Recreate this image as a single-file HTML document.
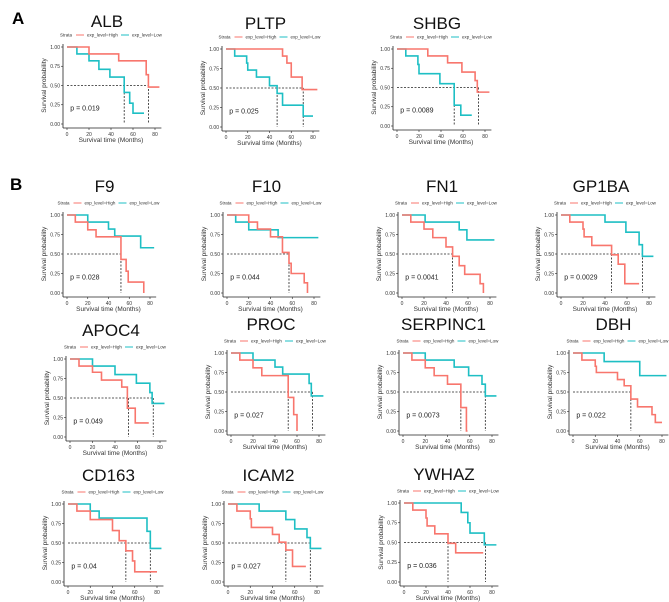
<!DOCTYPE html>
<html><head><meta charset="utf-8">
<style>
body{margin:0;background:#fff;width:669px;height:602px;overflow:hidden;font-family:"Liberation Sans",sans-serif}
svg{display:block}
</style></head>
<body>
<svg id="fig" width="669" height="602" viewBox="0 0 669 602" xmlns="http://www.w3.org/2000/svg">
<text x="12" y="24" font-size="17" font-weight="bold">A</text>
<text x="10" y="190" font-size="17" font-weight="bold">B</text>
</svg>
<script>
// Kaplan-Meier step data: times of steps and survival after each step
const genes=["ALB","PLTP","SHBG","F9","F10","FN1","GP1BA","APOC4","PROC","SERPINC1","DBH","CD163","ICAM2","YWHAZ"];
const pValues=["p = 0.019","p = 0.025","p = 0.0089","p = 0.028","p = 0.044","p = 0.0041","p = 0.0029","p = 0.049","p = 0.027","p = 0.0073","p = 0.022","p = 0.04","p = 0.027","p = 0.036"];
const xTicks=[0,20,40,60,80];
const yTicks=[0,0.25,0.5,0.75,1];
const yTickLabels=["0.00","0.25","0.50","0.75","1.00"];
const highT=[[0,20,47,72,74],[0,52,56,60,70],[0,28,46,59,71,73],[0,8,20,28,52,57,59,74],[0,20,28,40,51,57,59,71,74],[0,8,20,28,40,46,52,57,71,74],[0,8,20,21,28,46,52,58],[0,8,20,28,46,51,58],[0,8,20,28,52,57,60],[0,8,20,28,40,52,57],[0,8,20,21,40,46,52,58,71,74],[0,8,20,40,46,52,58,60],[0,8,20,21,40,46,52,58],[0,8,20,21,28,40,47]];
const highS=[[1,0.91,0.82,0.64,0.48],[1,0.91,0.82,0.64,0.48],[1,0.91,0.82,0.70,0.59,0.44],[1,0.91,0.81,0.72,0.43,0.28,0.14,0],[1,0.91,0.82,0.72,0.52,0.38,0.25,0.13,0],[1,0.91,0.82,0.71,0.59,0.47,0.35,0.24,0.12,0],[1,0.91,0.82,0.72,0.61,0.49,0.37,0.12],[1,0.91,0.83,0.73,0.64,0.37,0.18],[1,0.91,0.81,0.71,0.43,0.21,0],[1,0.91,0.81,0.71,0.60,0.30,0],[1,0.91,0.83,0.75,0.66,0.58,0.41,0.31,0.21,0.11],[1,0.91,0.80,0.66,0.53,0.40,0.27,0.13],[1,0.91,0.81,0.70,0.61,0.51,0.41,0.20],[1,0.91,0.81,0.71,0.61,0.49,0.37]];
const highEnd=[84,84,84,74,74,74,71,70,60,58,80,80,70,72];
const lowT=[[0,9,20,29,39,52,57,60],[0,8,19,20,28,40,47,52,71],[0,8,19,20,39,52,58],[0,20,40,46,71],[0,8,20,47],[0,21,52,59],[0,40,59,71,74],[0,20,40,59,71,73],[0,20,40,47,71,73],[0,20,46,59,71,74],[0,28,60],[0,20,28,71,74],[0,28,52,60,71,74],[0,52,58,60,73]];
const lowS=[[1,0.91,0.82,0.71,0.61,0.41,0.27,0.14],[1,0.91,0.82,0.73,0.64,0.53,0.43,0.28,0.14],[1,0.91,0.80,0.68,0.55,0.27,0.14],[1,0.91,0.82,0.73,0.58],[1,0.91,0.81,0.71],[1,0.91,0.81,0.68],[1,0.91,0.78,0.62,0.47],[1,0.91,0.80,0.69,0.57,0.43],[1,0.91,0.82,0.73,0.61,0.45],[1,0.91,0.82,0.71,0.60,0.45],[1,0.89,0.71],[1,0.91,0.82,0.65,0.43],[1,0.91,0.80,0.68,0.57,0.43],[1,0.88,0.75,0.62,0.47]];
const lowEnd=[70,80,68,84,84,84,84,84,84,84,84,84,84,84];
const medians=[[52,74],[47,71],[52,74],[52],[57],[46],[46,74],[52,74],[52,74],[52,74],[52],[52,74],[52,74],[40,74]];

// layout: x at 0, x at 80, y at 1.00, y at 0.00
const layout=[[67,155,47,124],[226,313,49,127],[397,485,49,126],
[67,150,215,293],[227,314,215,293],[402,490,215,293],[561,649,215,293],
[70,160,359,437],[231,319,353,431],[403,492,353,431],[573,662,353,431],
[68,157,504,582],[228,317,504,582],[404,492,503,582]];

const NS="http://www.w3.org/2000/svg";
const svg=document.getElementById('fig');
function mk(tag,attrs,parent){const e=document.createElementNS(NS,tag);for(const k in attrs)e.setAttribute(k,attrs[k]);(parent||svg).appendChild(e);return e;}
const RED="#F8766D",CYAN="#1EBFC4";

genes.forEach((g,i)=>{
  const [x0,x80,y1,y0]=layout[i];
  const sx=t=>x0+(x80-x0)*t/80;
  const sy=s=>y0+(y1-y0)*s;
  const grp=mk('g',{});
  
  
  const cx=(x0+x80)/2-4;
  const title=mk('text',{x:cx,y:y1-(i<3?20:23),'font-size':17,'text-anchor':'middle',fill:'#111'},grp);
  title.textContent=g;
  
  
  const lg=mk('g',{'font-size':4.5,fill:'#333'},grp);
  
  
  const lx=cx-47, ly=y1-12;
  mk('text',{x:lx,y:ly+1.5},lg).textContent='Strata';
  mk('line',{x1:lx+16,x2:lx+24,y1:ly,y2:ly,stroke:RED,'stroke-width':1},lg);
  mk('text',{x:lx+27,y:ly+1.5},lg).textContent='exp_level=High';
  mk('line',{x1:lx+61,x2:lx+69,y1:ly,y2:ly,stroke:CYAN,'stroke-width':1},lg);
  mk('text',{x:lx+72,y:ly+1.5},lg).textContent='exp_level=Low';
  const ax=x0-4, by=y0+4, xr=sx(84)+2;
  const yax=mk('line',{x1:ax,x2:ax,y1:y1-3,y2:by,stroke:'#222','stroke-width':0.8},grp);
  
  
  const xax=mk('line',{x1:ax,x2:xr,y1:by,y2:by,stroke:'#222','stroke-width':0.8},grp);
  
  
  yTicks.forEach((v,k)=>{
    mk('line',{x1:ax-2,x2:ax,y1:sy(v),y2:sy(v),stroke:'#222','stroke-width':0.6},grp);
    const t=mk('text',{x:ax-3,y:sy(v)+1.8,'font-size':5,'text-anchor':'end',fill:'#333'},grp);
    t.textContent=yTickLabels[k];
  });
  xTicks.forEach(v=>{
    mk('line',{x1:sx(v),x2:sx(v),y1:by,y2:by+2,stroke:'#222','stroke-width':0.6},grp);
    const t=mk('text',{x:sx(v),y:by+8,'font-size':5,'text-anchor':'middle',fill:'#333'},grp);
    t.textContent=v;
  });
  const xt=mk('text',{x:(x0+x80)/2,y:by+14,'font-size':6.5,'text-anchor':'middle',fill:'#333'},grp);
  xt.textContent='Survival time (Months)';
  
  
  const ym=(y0+y1)/2;
  const yt=mk('text',{x:x0-21,y:ym,'font-size':6.5,'text-anchor':'middle',fill:'#333',transform:`rotate(-90 ${x0-21} ${ym})`},grp);
  yt.textContent='Survival probability';
  
  
  const mx=Math.max(...medians[i]);
  mk('line',{x1:sx(0),x2:sx(mx),y1:sy(0.5),y2:sy(0.5),stroke:'#222','stroke-width':0.8,'stroke-dasharray':'2,1.5'},grp);
  medians[i].forEach(m=>{
    mk('line',{x1:sx(m),x2:sx(m),y1:sy(0.5),y2:sy(0),stroke:'#222','stroke-width':0.8,'stroke-dasharray':'2,1.5'},grp);
  });
  function step(T,S,end,col,name){
    let d=`M${sx(T[0])},${sy(S[0])}`;
    for(let k=1;k<T.length;k++){d+=` H${sx(T[k])} V${sy(S[k])}`;}
    d+=` H${sx(end)}`;
    const p=mk('path',{d,fill:'none',stroke:col,'stroke-width':1.6},grp);
    
    
  }
  step(lowT[i],lowS[i],lowEnd[i],CYAN,'low-expression-curve');
  step(highT[i],highS[i],highEnd[i],RED,'high-expression-curve');
  const pt=mk('text',{x:sx(3),y:sy(0.2)+2,'font-size':7,fill:'#222'},grp);
  pt.textContent=pValues[i];
  
  
});
</script>
</body></html>
